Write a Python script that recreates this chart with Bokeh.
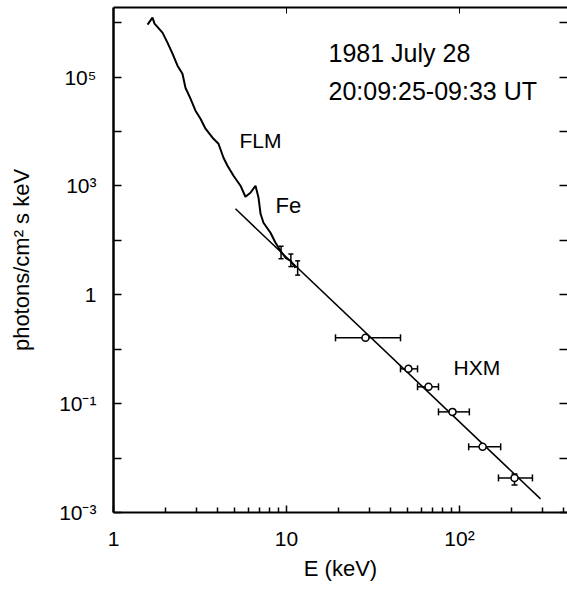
from bokeh.plotting import figure
from bokeh.models import FixedTicker, LogAxis, Label, Whisker, TeeHead, ColumnDataSource
from bokeh.embed import file_html
from bokeh.resources import INLINE

# FLM spectrum (photons / cm^2 s keV vs keV)
flm_energy = [1.573, 1.680, 1.726, 1.919, 2.051, 2.193, 2.344, 2.504, 2.606, 2.786,
              2.978, 3.184, 3.403, 3.735, 4.045, 4.323, 4.560, 4.940, 5.42, 5.79,
              6.19, 6.62, 6.89, 7.08, 7.36, 8.08, 8.64, 9.23, 9.87, 10.55, 11.27]
flm_flux = [9.18e5, 1.24e6, 9.6e5, 6.55e5, 4.29e5, 2.69e5, 1.62e5, 1.155e5, 6.38e4, 4.01e4,
            2.41e4, 1.72e4, 1.125e4, 7.69e3, 5.97e3, 3.30e3, 2.35e3, 1.54e3, 1.01e3, 633,
            750, 1010, 607, 308, 211, 138, 90.4, 64.5, 47.9, 42.2, 31.3]

# FLM points with error bars near 10 keV
flm_pt_energy = [9.3, 10.6, 11.6]
flm_pt_flux = [60, 43, 31]
flm_pt_lo = [46, 33, 23]
flm_pt_hi = [78, 56, 42]

# power-law fit line
fit_energy = [5.07, 294]
fit_flux = [380, 0.00178]

# HXM points
hxm_energy = [28.6, 50.7, 66.2, 91.1, 136, 208]
hxm_flux = [1.62, 0.436, 0.204, 0.0706, 0.0161, 0.00432]
hxm_e_lo = [19.2, 45.6, 57.2, 75.6, 113, 168]
hxm_e_hi = [45.6, 57.2, 75.6, 114, 173, 264]
hxm_vert_energy = [208]
hxm_vert_lo = [0.0032]
hxm_vert_hi = [0.0051]

x_tick_values = [1, 10, 100]
x_tick_labels = ["1", "10", "10²"]
y_tick_values = [1e-3, 1e-1, 10, 1e3, 1e5]
y_tick_labels = ["10⁻³", "10⁻¹", "1", "10³", "10⁵"]
y_minor_values = [1e-2, 1, 100, 1e4, 1e6]

FONT = "Liberation Sans"

p = figure(width=567, height=591, x_axis_type="log", y_axis_type="log",
           x_range=(1, 421), y_range=(1e-3, 1.9e6),
           output_backend="svg", toolbar_location=None,
           min_border_left=113, min_border_right=0, min_border_top=7, min_border_bottom=79)
p.outline_line_color = None
p.grid.visible = False
p.background_fill_color = "white"

x_minor = [m * d for d in (1, 10, 100) for m in range(2, 10) if m * d < 421]

xa = p.xaxis[0]
xa.ticker = FixedTicker(ticks=x_tick_values, minor_ticks=x_minor)
xa.major_label_overrides = dict(zip(x_tick_values, x_tick_labels))
xa.major_tick_in = 7
xa.major_tick_out = 0
xa.minor_tick_in = 5
xa.minor_tick_out = 0
xa.axis_line_width = 2
xa.major_tick_line_width = 1.5
xa.minor_tick_line_width = 1.5
xa.major_label_text_font = FONT
xa.major_label_text_font_size = "21px"
xa.major_label_standoff = 14
xa.major_label_text_color = "black"
xa.axis_label = "E (keV)"
xa.axis_label_text_font = FONT
xa.axis_label_text_font_size = "22px"
xa.axis_label_text_font_style = "normal"
xa.axis_label_text_color = "black"
xa.axis_label_standoff = 3

ya = p.yaxis[0]
ya.ticker = FixedTicker(ticks=y_tick_values, minor_ticks=y_minor_values)
ya.major_label_overrides = dict(zip(y_tick_values, y_tick_labels))
ya.major_tick_in = 8
ya.major_tick_out = 0
ya.minor_tick_in = 8
ya.minor_tick_out = 0
ya.axis_line_width = 2.5
ya.major_tick_line_width = 1.5
ya.minor_tick_line_width = 1.5
ya.major_label_text_font = FONT
ya.major_label_text_font_size = "21px"
ya.major_label_standoff = 17
ya.major_label_text_color = "black"
ya.axis_label = "photons/cm² s keV"
ya.axis_label_text_font = FONT
ya.axis_label_text_font_size = "22px"
ya.axis_label_text_font_style = "normal"
ya.axis_label_text_color = "black"
ya.axis_label_standoff = 22

top = LogAxis(ticker=FixedTicker(ticks=[10, 100], minor_ticks=[]),
              major_tick_in=6, major_tick_out=0, minor_tick_in=0, minor_tick_out=0,
              major_label_text_font_size="1px", major_label_text_alpha=0,
              major_label_standoff=0, axis_line_width=2)
p.add_layout(top, "above")

right = LogAxis(ticker=FixedTicker(ticks=y_tick_values + y_minor_values, minor_ticks=[]),
                major_tick_in=8, major_tick_out=0, minor_tick_in=0, minor_tick_out=0,
                major_label_text_font_size="1px", major_label_text_alpha=0,
                major_label_standoff=0,
                axis_line_color=None, major_tick_line_width=1.5)
p.add_layout(right, "right")

# curves
p.line(flm_energy, flm_flux, line_color="black", line_width=2)
p.line(fit_energy, fit_flux, line_color="black", line_width=1.5)

# FLM error bars
fsrc = ColumnDataSource(dict(e=flm_pt_energy, lo=flm_pt_lo, hi=flm_pt_hi))
p.add_layout(Whisker(source=fsrc, base="e", lower="lo", upper="hi", dimension="height",
                     line_width=1.5, line_color="black",
                     upper_head=TeeHead(size=5, line_width=1.5),
                     lower_head=TeeHead(size=5, line_width=1.5)))

# HXM error bars
hsrc = ColumnDataSource(dict(f=hxm_flux, lo=hxm_e_lo, hi=hxm_e_hi, e=hxm_energy))
p.add_layout(Whisker(source=hsrc, base="f", lower="lo", upper="hi", dimension="width",
                     line_width=1.5, line_color="black",
                     upper_head=TeeHead(size=7, line_width=1.5),
                     lower_head=TeeHead(size=7, line_width=1.5)))
vsrc = ColumnDataSource(dict(e=hxm_vert_energy, lo=hxm_vert_lo, hi=hxm_vert_hi))
p.add_layout(Whisker(source=vsrc, base="e", lower="lo", upper="hi", dimension="height",
                     line_width=1.5, line_color="black",
                     upper_head=TeeHead(size=6, line_width=1.5),
                     lower_head=TeeHead(size=6, line_width=1.5)))
p.scatter("e", "f", source=hsrc, marker="circle", size=7, fill_color="white",
          line_color="black", line_width=1.5)

# text labels
def add_text(x, y, txt, size):
    p.add_layout(Label(x=x, y=y, text=txt, text_font=FONT, text_font_size=size,
                       text_baseline="middle", text_align="left", text_color="black"))

add_text(17.5, 2.81e5, "1981 July 28", "25px")
add_text(17.5, 5.62e4, "20:09:25-09:33 UT", "25px")
add_text(5.35, 6.76e3, "FLM", "21px")
add_text(8.64, 433, "Fe", "22px")
add_text(92.3, 0.455, "HXM", "21px")

open("out.html", "w").write(file_html(p, INLINE))
